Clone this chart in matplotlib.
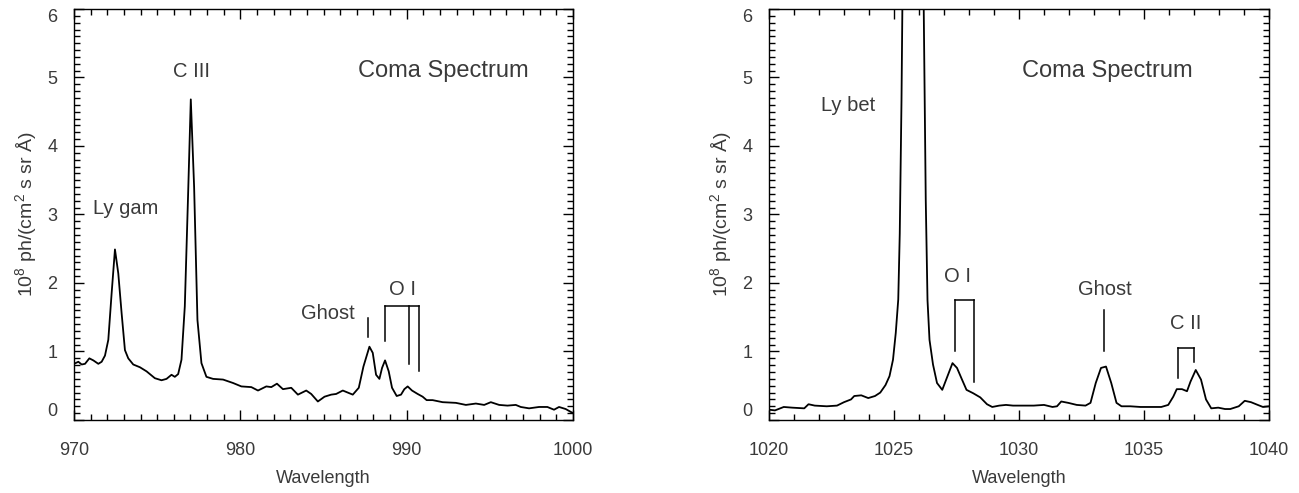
import numpy as np
import matplotlib
matplotlib.use("Agg")
import matplotlib.pyplot as plt
from matplotlib.ticker import MultipleLocator

plt.rcParams['font.family'] = ['Liberation Sans', 'DejaVu Sans']
plt.rcParams['mathtext.fontset'] = 'custom'
plt.rcParams['mathtext.rm'] = 'Liberation Sans'
plt.rcParams['mathtext.default'] = 'rm'

# left panel: 970-1000 A
wl_left = [970.00, 970.26, 970.46, 970.66, 970.92, 971.16, 971.46, 971.66, 971.86, 972.06,
           972.26, 972.46, 972.66, 972.86, 973.06, 973.26, 973.56, 973.96, 974.36, 974.86,
           975.26, 975.56, 975.86, 976.06, 976.26, 976.46, 976.66, 976.86, 977.02, 977.22,
           977.42, 977.66, 977.96, 978.36, 978.96, 979.56, 980.06, 980.66, 981.06, 981.56,
           981.86, 982.20, 982.56, 983.06, 983.46, 983.96, 984.26, 984.66, 985.06, 985.46,
           985.76, 986.16, 986.46, 986.76, 987.12, 987.40, 987.76, 987.96, 988.16, 988.36,
           988.52, 988.70, 988.92, 989.12, 989.40, 989.66, 989.86, 990.06, 990.32, 990.66,
           990.96, 991.20, 991.56, 992.16, 992.96, 993.56, 994.16, 994.66, 995.06, 995.56,
           996.06, 996.56, 996.86, 997.36, 997.96, 998.46, 998.86, 999.16, 999.56, 1000.0]
flux_left = [0.82, 0.85, 0.81, 0.82, 0.90, 0.87, 0.82, 0.85, 0.94, 1.17,
             1.85, 2.49, 2.14, 1.56, 1.02, 0.90, 0.81, 0.77, 0.71, 0.61,
             0.58, 0.60, 0.66, 0.63, 0.67, 0.88, 1.66, 3.31, 4.68, 3.40,
             1.46, 0.83, 0.63, 0.60, 0.59, 0.54, 0.49, 0.48, 0.43, 0.49,
             0.48, 0.53, 0.45, 0.47, 0.37, 0.43, 0.38, 0.27, 0.34, 0.37,
             0.38, 0.43, 0.40, 0.37, 0.47, 0.78, 1.07, 0.98, 0.66, 0.60,
             0.76, 0.87, 0.71, 0.47, 0.35, 0.37, 0.45, 0.49, 0.43, 0.38,
             0.34, 0.29, 0.29, 0.26, 0.25, 0.22, 0.24, 0.22, 0.26, 0.22,
             0.21, 0.22, 0.19, 0.17, 0.19, 0.19, 0.15, 0.19, 0.16, 0.10]

# right panel: 1020-1040 A
wl_right = [1020.00, 1020.24, 1020.59, 1020.93, 1021.41, 1021.58, 1021.83, 1022.31, 1022.72, 1023.00,
            1023.28, 1023.41, 1023.69, 1023.97, 1024.24, 1024.45, 1024.66, 1024.82, 1024.96, 1025.07,
            1025.17, 1025.23, 1025.30, 1025.36, 1025.75, 1026.16, 1026.27, 1026.34, 1026.42, 1026.56,
            1026.72, 1026.93, 1027.14, 1027.34, 1027.52, 1027.72, 1027.90, 1028.17, 1028.45, 1028.72,
            1028.93, 1029.21, 1029.48, 1029.76, 1030.17, 1030.59, 1031.00, 1031.34, 1031.52, 1031.69,
            1031.97, 1032.31, 1032.66, 1032.86, 1033.07, 1033.28, 1033.48, 1033.69, 1033.90, 1034.10,
            1034.45, 1034.86, 1035.28, 1035.69, 1035.97, 1036.17, 1036.31, 1036.52, 1036.72, 1036.86,
            1037.07, 1037.28, 1037.48, 1037.69, 1037.97, 1038.24, 1038.45, 1038.79, 1039.03, 1039.28,
            1039.55, 1039.76, 1040.00]
flux_right = [0.15, 0.14, 0.19, 0.18, 0.17, 0.23, 0.21, 0.20, 0.21, 0.26,
              0.30, 0.35, 0.36, 0.32, 0.35, 0.40, 0.51, 0.64, 0.88, 1.27,
              1.76, 2.72, 4.67, 7.0, 9.0, 7.0, 3.21, 1.75, 1.17, 0.81,
              0.54, 0.44, 0.64, 0.83, 0.76, 0.59, 0.44, 0.39, 0.33, 0.23,
              0.19, 0.21, 0.22, 0.21, 0.21, 0.21, 0.22, 0.19, 0.20, 0.27,
              0.25, 0.22, 0.21, 0.25, 0.54, 0.76, 0.78, 0.54, 0.25, 0.20,
              0.20, 0.19, 0.19, 0.19, 0.22, 0.34, 0.45, 0.45, 0.42, 0.56,
              0.73, 0.59, 0.30, 0.17, 0.18, 0.16, 0.16, 0.20, 0.28, 0.26,
              0.22, 0.19, 0.20]

# line labels: text, wavelength, height
labels_left = [("Ly gam", 973.08, 3.09), ("C III", 977.06, 5.09), ("Ghost", 985.26, 1.56),
               ("O I", 989.76, 1.90)]
labels_right = [("Ly bet", 1023.18, 4.59), ("O I", 1027.55, 2.10), ("Ghost", 1033.44, 1.91),
                ("C II", 1036.66, 1.41)]

# line markers: list of (x, y_bottom) legs, top height
marks_left = [([(987.66, 1.21)], 1.49),
              ([(988.70, 1.16), (990.12, 0.81), (990.72, 0.72)], 1.66)]
marks_right = [([(1027.44, 1.00), (1028.19, 0.56)], 1.75),
               ([(1033.41, 1.00)], 1.60),
               ([(1036.38, 0.61), (1037.01, 0.85)], 1.05)]

ylabel = r'$10^8$ ph/(cm$^2$ s sr Å)'
txt_col = '#3a3a3a'

fig = plt.figure(figsize=(12.99, 4.93), dpi=100)
ax1 = fig.add_axes([0.0570, 0.1481, 0.3841, 0.8337])
ax2 = fig.add_axes([0.5920, 0.1481, 0.3849, 0.8337])


def draw_marks(ax, marks):
    for legs, top in marks:
        for x, yb in legs:
            ax.plot([x, x], [yb, top], color='black', lw=1.1)
        if len(legs) > 1:
            ax.plot([legs[0][0], legs[-1][0]], [top, top], color='black', lw=1.1)


def style(ax, xlim, xmaj):
    ax.set_xlim(*xlim)
    ax.set_ylim(0, 6)
    ax.xaxis.set_major_locator(MultipleLocator(xmaj))
    ax.xaxis.set_minor_locator(MultipleLocator(1))
    ax.yaxis.set_major_locator(MultipleLocator(1))
    ax.yaxis.set_minor_locator(MultipleLocator(0.1))
    ax.tick_params(which='both', direction='in', top=True, right=True,
                   labelsize=13, labelcolor=txt_col, width=1.0)
    ax.tick_params(which='major', length=7)
    ax.tick_params(which='minor', length=4)
    ax.tick_params(axis='x', pad=16)
    ax.tick_params(axis='y', pad=12)
    ax.set_yticks(range(7))
    ax.set_yticklabels([str(i) for i in range(7)])
    tl = ax.get_yticklabels()
    tl[0].set_va('bottom')
    tl[-1].set_va('top')
    for s in ax.spines.values():
        s.set_linewidth(1.0)
    ax.set_xlabel('Wavelength', fontsize=13, color=txt_col, labelpad=8)
    ax.set_ylabel(ylabel, fontsize=14, color=txt_col, labelpad=6)


ax1.plot(wl_left, flux_left, color='black', lw=1.3)
style(ax1, (970, 1000), 10)
for t, x, y in labels_left:
    ax1.text(x, y, t, fontsize=14.5, color=txt_col, ha='center', va='center')
ax1.text(992.22, 5.10, 'Coma Spectrum', fontsize=17, color=txt_col, ha='center', va='center')
draw_marks(ax1, marks_left)

ax2.plot(wl_right, flux_right, color='black', lw=1.3)
style(ax2, (1020, 1040), 5)
for t, x, y in labels_right:
    ax2.text(x, y, t, fontsize=14.5, color=txt_col, ha='center', va='center')
ax2.text(1033.55, 5.10, 'Coma Spectrum', fontsize=17, color=txt_col, ha='center', va='center')
draw_marks(ax2, marks_right)

fig.savefig('out.png', dpi=100)
